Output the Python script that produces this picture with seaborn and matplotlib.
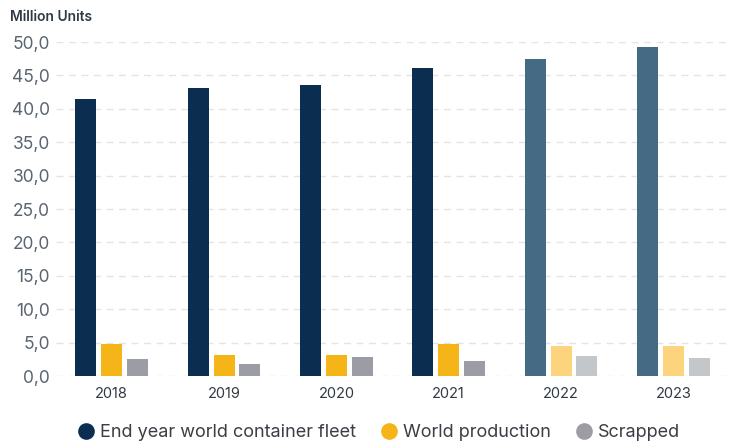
import matplotlib
matplotlib.use("Agg")
import matplotlib.pyplot as plt
from matplotlib.lines import Line2D
import seaborn as sns
import pandas as pd

years = ["2018", "2019", "2020", "2021", "2022", "2023"]
fleet = [41.5, 43.2, 43.6, 46.1, 47.5, 49.2]
production = [4.75, 3.2, 3.2, 4.8, 4.5, 4.5]
scrapped = [2.5, 1.75, 2.8, 2.25, 3.0, 2.75]
series = ["End year world container fleet", "World production", "Scrapped"]
yticks = [0, 5, 10, 15, 20, 25, 30, 35, 40, 45, 50]

dark_colors = ["#0b2e50", "#f5b417", "#9b9ca4"]
light_colors = ["#456b84", "#fdd47e", "#c4c7ca"]
forecast_years = ["2022", "2023"]

df = pd.DataFrame({
    "year": years * 3,
    "value": fleet + production + scrapped,
    "series": [series[0]] * 6 + [series[1]] * 6 + [series[2]] * 6,
})

sns.set_theme(style="white")
plt.rcParams["font.family"] = ["Inter", "DejaVu Sans"]

fig = plt.figure(figsize=(7.31, 4.43), dpi=100)
ax = fig.add_axes([0.076, 0.151, 0.922, 0.754])

sns.barplot(data=df, x="year", y="value", hue="series", hue_order=series,
            order=years, palette=dark_colors, width=0.69, gap=0.19,
            legend=False, ax=ax, saturation=1)

# recolor forecast years
for ci, container in enumerate(ax.containers):
    for yi, patch in enumerate(container.patches):
        color = light_colors[ci] if years[yi] in forecast_years else dark_colors[ci]
        patch.set_facecolor(color)
        patch.set_edgecolor("none")

ax.set_ylim(0, 50)
ax.set_xlim(-0.5, 5.5)
ax.set_yticks(yticks)
ax.set_yticklabels([f"{v:.1f}".replace(".", ",") for v in yticks],
                   fontsize=12.5, color="#5a6571")
ax.tick_params(axis="x", labelsize=10.5, colors="#2f3a44", length=0, pad=8)
ax.tick_params(axis="y", length=0, pad=4)
ax.set_xlabel("")
ax.set_ylabel("")
ax.yaxis.grid(True, linestyle=(0, (5, 4)), color="#e2e4e6", linewidth=1)
ax.set_axisbelow(True)
for s in ax.spines.values():
    s.set_visible(False)
for lbl in ax.get_yticklabels():
    lbl.set_horizontalalignment("right")

fig.text(0.014, 0.962, "Million Units", fontsize=10, fontweight="semibold",
         color="#2f3a44", ha="left", va="center")

handles = [Line2D([0], [0], marker="o", linestyle="none", markersize=12,
                  markerfacecolor=c, markeredgecolor="none") for c in dark_colors]
fig.legend(handles, series, loc="center", bbox_to_anchor=(0.518, 0.023),
           ncol=3, frameon=False, handlelength=1.0, handletextpad=0.3,
           columnspacing=1.3, labelcolor="#3a3f45",
           prop={"size": 13})

fig.savefig("out.png", dpi=100)
